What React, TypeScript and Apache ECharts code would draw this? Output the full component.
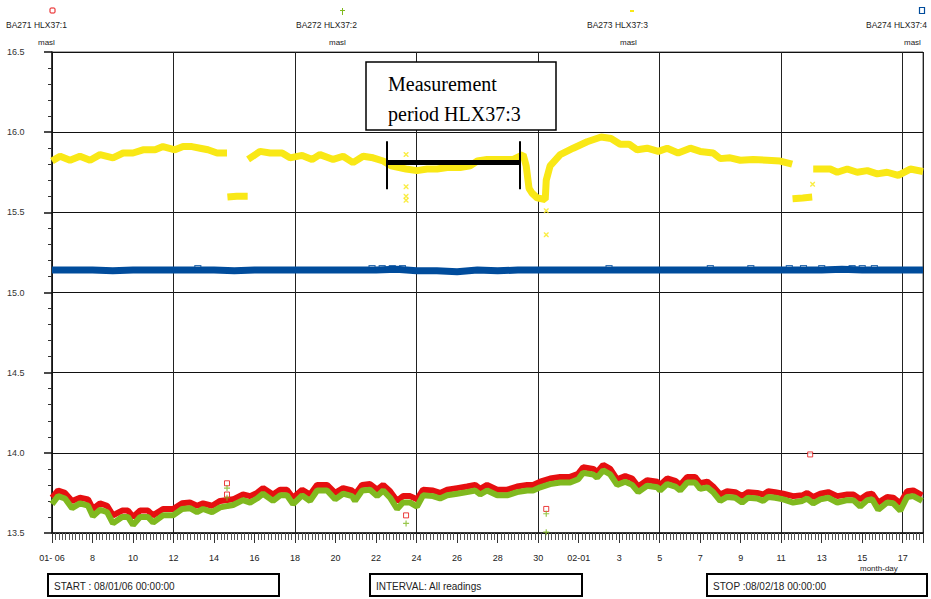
import React, { useEffect, useRef } from "react";
import * as echarts from "echarts";

// time in days after 2006-01-06 00:00
const lowTimes = [
  0.0, 0.3, 0.64, 0.99, 1.38, 1.78, 2.02, 2.37, 2.72, 3.01, 3.46, 3.75, 4.0, 4.35, 4.74, 4.99, 5.48, 5.98,
  6.42, 6.81, 7.16, 7.46, 7.9, 8.3, 8.94, 9.43, 9.78, 10.12, 10.42, 10.91, 11.26, 11.6, 11.9, 12.35, 12.74,
  13.09, 13.58, 13.98, 14.37, 14.81, 14.96, 15.31, 15.7, 16.05, 16.35, 16.69, 17.04, 17.33, 17.68, 18.02,
  18.32, 18.81, 19.16, 19.51, 20.0, 20.49, 20.89, 21.14, 21.48, 21.98, 22.47, 22.96, 23.46, 23.75, 24.1,
  24.59, 25.09, 25.58, 25.98, 26.22, 26.72, 26.91, 27.21, 27.56, 27.9, 28.3, 28.64, 28.94, 29.38, 29.88,
  30.02, 30.37, 30.77, 31.01, 31.36, 31.75, 32.0, 32.35, 32.64, 32.99, 33.33, 33.73, 34.07, 34.37, 34.81,
  35.11, 35.36, 35.7, 36.1, 36.59, 37.04, 37.28, 37.58, 37.93, 38.32, 38.77, 39.26, 39.56, 39.9, 40.25,
  40.49, 40.79, 41.23, 41.53, 41.88, 42.22, 42.52, 42.96,
];
const hlx1Values = [
  13.72, 13.765, 13.75, 13.7, 13.72, 13.71, 13.65, 13.685, 13.67, 13.61, 13.64, 13.64, 13.6, 13.64, 13.64,
  13.61, 13.65, 13.65, 13.685, 13.69, 13.67, 13.685, 13.67, 13.7, 13.71, 13.74, 13.73, 13.75, 13.78, 13.74,
  13.77, 13.77, 13.72, 13.77, 13.74, 13.8, 13.8, 13.75, 13.78, 13.765, 13.74, 13.8, 13.805, 13.77, 13.8,
  13.76, 13.7, 13.73, 13.73, 13.71, 13.77, 13.765, 13.75, 13.77, 13.78, 13.79, 13.8, 13.775, 13.8, 13.77,
  13.77, 13.79, 13.8, 13.8, 13.82, 13.84, 13.85, 13.85, 13.87, 13.91, 13.9, 13.88, 13.925, 13.9, 13.835,
  13.855, 13.84, 13.79, 13.83, 13.82, 13.8, 13.84, 13.825, 13.8, 13.85, 13.85, 13.81, 13.82, 13.79, 13.74,
  13.76, 13.755, 13.73, 13.755, 13.75, 13.74, 13.76, 13.755, 13.745, 13.73, 13.735, 13.75, 13.725, 13.745,
  13.755, 13.73, 13.74, 13.74, 13.71, 13.74, 13.745, 13.69, 13.725, 13.72, 13.685, 13.76, 13.765, 13.735,
];
const hlx2Values = [
  13.68, 13.73, 13.715, 13.655, 13.685, 13.67, 13.605, 13.645, 13.63, 13.56, 13.6, 13.6, 13.55, 13.6, 13.6,
  13.565, 13.61, 13.61, 13.65, 13.655, 13.63, 13.65, 13.63, 13.66, 13.675, 13.705, 13.69, 13.715, 13.745,
  13.7, 13.735, 13.735, 13.68, 13.735, 13.7, 13.765, 13.765, 13.71, 13.745, 13.73, 13.7, 13.765, 13.77,
  13.73, 13.765, 13.72, 13.65, 13.69, 13.69, 13.665, 13.735, 13.73, 13.715, 13.735, 13.745, 13.755, 13.765,
  13.74, 13.765, 13.735, 13.735, 13.755, 13.765, 13.765, 13.785, 13.805, 13.815, 13.815, 13.835, 13.875,
  13.865, 13.845, 13.89, 13.865, 13.8, 13.82, 13.8, 13.755, 13.795, 13.785, 13.765, 13.805, 13.79, 13.765,
  13.815, 13.815, 13.775, 13.785, 13.755, 13.7, 13.725, 13.72, 13.69, 13.72, 13.715, 13.7, 13.725, 13.72,
  13.71, 13.69, 13.7, 13.715, 13.685, 13.71, 13.72, 13.69, 13.705, 13.705, 13.665, 13.705, 13.71, 13.645,
  13.69, 13.685, 13.64, 13.725, 13.73, 13.7,
];
const hlx1Outliers = [[8.64, 13.81], [8.64, 13.74], [17.48, 13.61], [24.4, 13.65], [37.43, 13.99]];
const hlx2Outliers = [[8.64, 13.78], [8.64, 13.72], [17.48, 13.56], [24.4, 13.62], [24.4, 13.505]];

const hlx3Times = [
  0.0, 0.4, 0.89, 1.38, 1.88, 2.37, 3.01, 3.51, 4.0, 4.49, 5.09, 5.48, 6.07, 6.47, 6.91, 7.31, 7.7, 8.15,
  8.64, 8.65, 8.66, 9.12, 9.66, 9.67, 9.68, 10.27, 10.77, 11.36, 11.75, 12.35, 12.84, 13.23, 13.88, 14.37,
  14.86, 15.36, 15.85, 16.35, 16.74, 17.48, 18.02, 18.52, 19.01, 19.51, 20.15, 20.64, 21.0, 21.48, 22.12,
  22.77, 23.26, 23.41, 23.55, 23.7, 23.95, 24.35, 24.4, 24.59, 25.09, 25.73, 26.42, 27.11, 27.6, 28.05,
  28.49, 28.89, 29.38, 29.93, 30.37, 30.91, 31.51, 32.0, 32.64, 32.99, 33.48, 33.98, 34.62, 35.31, 35.95,
  36.54, 36.55, 36.56, 37.06, 37.53, 37.54, 37.58, 37.93, 38.42, 38.77, 39.26, 39.75, 40.25, 40.74, 41.23,
  41.78, 42.37, 43.0,
];
const hlx3Values: (number | null)[] = [
  15.82, 15.85, 15.825, 15.85, 15.825, 15.86, 15.84, 15.87, 15.87, 15.89, 15.89, 15.91, 15.89, 15.91, 15.91,
  15.9, 15.89, 15.87, 15.87, null, 15.595, 15.6, 15.6, null, 15.83, 15.88, 15.87, 15.87, 15.84, 15.855,
  15.83, 15.86, 15.83, 15.85, 15.81, 15.85, 15.84, 15.82, 15.79, 15.77, 15.76, 15.77, 15.77, 15.78, 15.78,
  15.79, 15.82, 15.83, 15.83, 15.83, 15.86, 15.79, 15.65, 15.62, 15.59, 15.58, 15.7, 15.79, 15.86, 15.9,
  15.94, 15.97, 15.96, 15.925, 15.925, 15.89, 15.9, 15.88, 15.9, 15.87, 15.9, 15.88, 15.87, 15.835, 15.84,
  15.825, 15.83, 15.825, 15.82, 15.8, null, 15.585, 15.59, 15.595, null, 15.77, 15.77, 15.77, 15.75, 15.77,
  15.75, 15.76, 15.74, 15.75, 15.73, 15.77, 15.755,
];
const hlx3Outliers = [
  [17.48, 15.86], [17.48, 15.66], [17.48, 15.6], [17.48, 15.575], [24.4, 15.51], [24.4, 15.36], [37.55, 15.675],
];

const hlx4Times = [
  0, 1, 2, 3, 4, 5, 6, 7, 8, 9, 10, 11, 12, 13, 14, 15, 16, 17, 18, 19, 20, 21, 22, 23, 24, 25, 26, 27, 28,
  29, 30, 31, 32, 33, 34, 35, 36, 37, 38, 39, 40, 41, 42, 43,
];
const hlx4Values = [
  15.14, 15.14, 15.14, 15.135, 15.14, 15.14, 15.14, 15.14, 15.14, 15.135, 15.14, 15.14, 15.14, 15.14, 15.14,
  15.14, 15.14, 15.145, 15.135, 15.135, 15.13, 15.14, 15.135, 15.14, 15.14, 15.14, 15.14, 15.14, 15.14, 15.14,
  15.14, 15.14, 15.14, 15.14, 15.14, 15.14, 15.14, 15.14, 15.14, 15.145, 15.14, 15.14, 15.14, 15.14,
];
const hlx4Outliers = [
  [7.2, 15.153], [15.8, 15.153], [16.3, 15.153], [16.8, 15.153], [17.3, 15.153], [27.5, 15.153],
  [32.5, 15.153], [34.5, 15.153], [36.4, 15.153], [37.1, 15.153], [38.0, 15.153], [39.5, 15.153],
  [40.0, 15.153], [40.6, 15.153],
];

// measurement period HLX37:3 (days) and bar level
const periodStart = 16.54;
const periodEnd = 23.11;
const periodLevel = 15.8125;
const capLow = 15.644;
const capHigh = 15.944;

const xTickLabels = [
  "01- 06", "8", "10", "12", "14", "16", "18", "20", "22", "24", "26", "28", "30", "02-01", "3", "5", "7",
  "9", "11", "13", "15", "17",
];

const seriesNames = ["BA271 HLX37:1", "BA272 HLX37:2", "BA273 HLX37:3", "BA274 HLX37:4"];

const RED = "#e60f10";
const GREEN = "#80b91f";
const YELLOW = "#f9e816";
const BLUE = "#004c9c";
const SANS = "Liberation Sans, Arial, sans-serif";
const SERIF = "Liberation Serif, Times New Roman, serif";

const PLUS = "path://M2,0h1v5h-1zM0,2h5v1h-5z";
const CROSS = "path://M0,0l1,0l4,4l0,1l-1,0l-4,-4zM4,0l1,0l0,1l-4,4l-1,0l0,-1z";

function pair(times: number[], values: (number | null)[]) {
  return times.map((t, i) => [t, values[i] === null ? "-" : values[i]]);
}

export default function App() {
  const ref = useRef<HTMLDivElement>(null);
  useEffect(() => {
    if (!ref.current) return;
    const chart = echarts.init(ref.current, null, { renderer: "svg" });
    const text = (x: number, y: number, s: string, size = 9, extra: any = {}) => ({
      type: "text",
      x,
      y,
      style: { text: s, fill: "#222", font: `${size}px ${SANS}`, textVerticalAlign: "middle", ...extra },
    });
    const box = (x: number, y: number, w: number, h: number, label: string) => [
      { type: "rect", shape: { x, y, width: w, height: h }, style: { fill: "#fff", stroke: "#000", lineWidth: 2 } },
      text(x + 6, y + h / 2 + 1, label, 10),
    ];
    const option: any = {
      animation: false,
      backgroundColor: "#fff",
      grid: { left: 52, right: 8, top: 52, bottom: 66, show: true, borderColor: "#555", borderWidth: 1 },
      xAxis: [
        {
          type: "value",
          min: 0,
          max: 43,
          interval: 2,
          position: "bottom",
          axisLine: { show: true, lineStyle: { color: "#111", width: 1.5 } },
          axisTick: { show: true, length: 10, lineStyle: { color: "#333" } },
          minorTick: { show: true, splitNumber: 12, length: 7, lineStyle: { color: "#555" } },
          splitLine: { show: false },
          axisLabel: {
            margin: 20,
            fontSize: 9,
            fontFamily: SANS,
            color: "#222",
            formatter: (v: number) => (Math.abs(v % 2) < 1e-6 ? xTickLabels[Math.round(v / 2)] ?? "" : ""),
          },
        },
        {
          type: "value",
          min: 0,
          max: 43,
          interval: 6,
          position: "top",
          axisLine: { show: false },
          axisTick: { show: false },
          axisLabel: { show: false },
          splitLine: { show: true, lineStyle: { color: "#222", width: 1 } },
        },
      ],
      yAxis: {
        type: "value",
        min: 13.5,
        max: 16.5,
        interval: 0.5,
        axisLine: { show: true, lineStyle: { color: "#111", width: 1.5 } },
        axisTick: { show: true, length: 8, lineStyle: { color: "#111", width: 1.5 } },
        minorTick: { show: true, splitNumber: 5, length: 4, lineStyle: { color: "#333" } },
        splitLine: { show: true, lineStyle: { color: "#111", width: 1 } },
        axisLabel: {
          margin: 45,
          align: "left",
          fontSize: 9,
          fontFamily: SANS,
          color: "#333",
          formatter: (v: number) => v.toFixed(1),
        },
      },
      series: [
        {
          name: seriesNames[2],
          type: "line",
          data: pair(hlx3Times, hlx3Values),
          showSymbol: false,
          symbol: "none",
          connectNulls: false,
          lineStyle: { color: YELLOW, width: 7 },
          z: 2,
          markLine: {
            silent: true,
            symbol: "none",
            label: { show: false },
            data: [
              [
                { coord: [periodStart, periodLevel], lineStyle: { color: "#000", width: 5, type: "solid" } },
                { coord: [periodEnd, periodLevel] },
              ],
              [
                { coord: [periodStart, capLow], lineStyle: { color: "#000", width: 2, type: "solid" } },
                { coord: [periodStart, capHigh] },
              ],
              [
                { coord: [periodEnd, capLow], lineStyle: { color: "#000", width: 2, type: "solid" } },
                { coord: [periodEnd, capHigh] },
              ],
            ],
          },
        },
        {
          type: "scatter",
          data: hlx3Outliers,
          symbol: CROSS,
          symbolSize: 5,
          itemStyle: { color: YELLOW },
          z: 2,
        },
        {
          name: seriesNames[3],
          type: "line",
          data: pair(hlx4Times, hlx4Values),
          showSymbol: false,
          symbol: "none",
          lineStyle: { color: BLUE, width: 7 },
          z: 3,
        },
        {
          type: "scatter",
          data: hlx4Outliers,
          symbol: "rect",
          symbolSize: [6, 5],
          itemStyle: { color: "rgba(0,0,0,0)", borderColor: BLUE, borderWidth: 1 },
          z: 3,
        },
        {
          name: seriesNames[0],
          type: "line",
          data: pair(lowTimes, hlx1Values),
          showSymbol: false,
          symbol: "none",
          lineStyle: { color: RED, width: 6 },
          z: 4,
        },
        {
          type: "scatter",
          data: hlx1Outliers,
          symbol: "rect",
          symbolSize: 5,
          itemStyle: { color: "#fff", borderColor: RED, borderWidth: 1 },
          z: 4,
        },
        {
          name: seriesNames[1],
          type: "line",
          data: pair(lowTimes, hlx2Values),
          showSymbol: false,
          symbol: "none",
          lineStyle: { color: GREEN, width: 6 },
          z: 5,
        },
        {
          type: "scatter",
          data: hlx2Outliers,
          symbol: PLUS,
          symbolSize: 6,
          itemStyle: { color: GREEN },
          z: 5,
        },
      ],
      graphic: [
        // header legend
        { type: "rect", shape: { x: 50, y: 8, width: 5, height: 5, r: 1 }, style: { fill: "none", stroke: RED, lineWidth: 1 } },
        text(6, 25, seriesNames[0], 8.5),
        text(38, 42, "masl", 8),
        { type: "line", shape: { x1: 342.5, y1: 8, x2: 342.5, y2: 15 }, style: { stroke: GREEN, lineWidth: 1 } },
        { type: "line", shape: { x1: 340, y1: 10.5, x2: 345, y2: 10.5 }, style: { stroke: GREEN, lineWidth: 1 } },
        text(296, 25, seriesNames[1], 8.5),
        text(329, 42, "masl", 8),
        { type: "rect", shape: { x: 630, y: 10, width: 4, height: 2 }, style: { fill: YELLOW } },
        text(587, 25, seriesNames[2], 8.5),
        text(620, 42, "masl", 8),
        { type: "rect", shape: { x: 919.5, y: 7.5, width: 5, height: 6 }, style: { fill: "none", stroke: BLUE, lineWidth: 1.2 } },
        text(866, 25, seriesNames[3], 8.5),
        text(904, 42, "masl", 8),
        // annotation
        { type: "rect", shape: { x: 366, y: 62, width: 190, height: 68 }, style: { fill: "#fff", stroke: "#000", lineWidth: 1.5 }, z: 10 },
        { type: "text", x: 388, y: 84, z: 11, style: { text: "Measurement", fill: "#000", font: `20px ${SERIF}`, textVerticalAlign: "middle" } },
        { type: "text", x: 388, y: 114, z: 11, style: { text: "period HLX37:3", fill: "#000", font: `20px ${SERIF}`, textVerticalAlign: "middle" } },
        // bottom
        text(860, 568, "month-day", 8),
        ...box(48, 574, 231, 22, "START : 08/01/06 00:00:00"),
        ...box(370, 574, 212, 22, "INTERVAL: All readings"),
        ...box(707, 574, 220, 22, "STOP :08/02/18 00:00:00"),
      ],
    };
    chart.setOption(option);
    return () => chart.dispose();
  }, []);
  return <div ref={ref} style={{ position: "fixed", left: 0, top: 0, width: 931, height: 599 }} />;
}
